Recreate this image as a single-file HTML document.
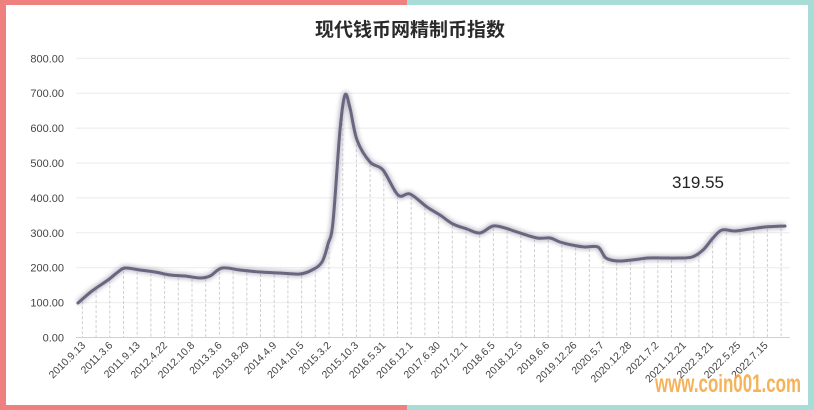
<!DOCTYPE html>
<html><head><meta charset="utf-8"><style>
html,body{margin:0;padding:0;width:814px;height:410px;overflow:hidden;background:#fff}
svg{display:block}
text{font-family:"Liberation Sans","Noto Sans CJK SC",sans-serif}
</style></head><body>
<svg id="s" width="814" height="410" viewBox="0 0 814 410" xmlns="http://www.w3.org/2000/svg">
<defs><filter id="sh" x="-5%" y="-5%" width="110%" height="120%"><feGaussianBlur stdDeviation="2.2"/></filter></defs>
<rect x="0" y="0" width="407" height="410" fill="#ee8080"/>
<rect x="407" y="0" width="407" height="410" fill="#a8dcd6"/>
<rect x="6" y="5" width="802" height="400" fill="#fff"/>
<text x="410" y="36" text-anchor="middle" font-size="19" font-weight="bold" fill="#2a2a2a">现代钱币网精制币指数</text>
<g id="grid" stroke="#ebebeb" stroke-width="1"></g>
<g id="drop" stroke="#cfcfcf" stroke-width="1" stroke-dasharray="3,2"></g>
<line x1="76" y1="337.5" x2="790" y2="337.5" stroke="#d0d0d0"/>
<g id="ylab" font-size="11" fill="#444" text-anchor="end"></g>
<g id="xlab" font-size="10.5" fill="#444"></g>
<path id="shadow" fill="none" stroke="#9a96a8" stroke-width="6" opacity="0.6" filter="url(#sh)"/>
<path id="line" fill="none" stroke="#6b6680" stroke-width="3" stroke-linejoin="round" stroke-linecap="round"/>
<text x="672" y="188" font-size="17" fill="#222">319.55</text>
<text x="655" y="392" font-size="25" font-weight="bold" fill="#f5a53c" opacity="0.85" textLength="146" lengthAdjust="spacingAndGlyphs">www.coin001.com</text>
</svg>
<script>
var ns="http://www.w3.org/2000/svg";
function el(t,a,p){var e=document.createElementNS(ns,t);for(var k in a)e.setAttribute(k,a[k]);p.appendChild(e);return e;}
var g=document.getElementById('grid'),yl=document.getElementById('ylab'),xl=document.getElementById('xlab');
for(var i=0;i<=8;i++){var y=337.5-i*34.9;if(i>0)el('line',{x1:76,y1:y,x2:790,y2:y},g);var t=el('text',{x:64,y:y+4},yl);t.textContent=(i*100).toFixed(2);}
var P=[[78,303],[92,291],[108,280],[118,272],[125,268],[140,270],[155,272],[170,275],[185,276],[200,278],[210,276],[222,268],[240,270],[260,272],[280,273],[300,274],[312,270],[322,262],[328,244],[333,222],[340,130],[345,95],[350,108],[357,140],[370,162],[383,170],[398,195],[410,194],[427,207],[440,215],[453,224],[467,229],[480,233],[493,226],[505,228],[517,232],[537,238],[550,238],[560,242],[572,245],[585,247],[598,247],[606,258],[618,261],[632,260],[648,258],[662,258],[678,258],[692,257],[703,250],[713,238],[722,230],[735,231],[750,229],[765,227],[785,226]];
var d="M"+P[0][0]+","+P[0][1];
for(var i=0;i<P.length-1;i++){var p0=P[i-1]||P[i],p1=P[i],p2=P[i+1],p3=P[i+2]||p2;
d+=" C"+(p1[0]+(p2[0]-p0[0])/6)+","+(p1[1]+(p2[1]-p0[1])/6)+" "+(p2[0]-(p3[0]-p1[0])/6)+","+(p2[1]-(p3[1]-p1[1])/6)+" "+p2[0]+","+p2[1];}
document.getElementById('line').setAttribute('d',d);document.getElementById('shadow').setAttribute('d',d);
function yat(x){for(var i=0;i<P.length-1;i++){if(x>=P[i][0]&&x<=P[i+1][0]){var f=(x-P[i][0])/(P[i+1][0]-P[i][0]);return P[i][1]+f*(P[i+1][1]-P[i][1]);}}return 226;}
var dr=document.getElementById('drop');
for(var x=82.4;x<788;x+=13.7){el('line',{x1:x,y1:yat(x)+2,x2:x,y2:337},dr);}
var L=["2010.9.13","2011.3.6","2011.9.13","2012.4.22","2012.10.8","2013.3.6","2013.8.29","2014.4.9","2014.10.5","2015.3.2","2015.10.3","2016.5.31","2016.12.1","2017.6.30","2017.12.1","2018.6.5","2018.12.5","2019.6.6","2019.12.26","2020.5.7","2020.12.28","2021.7.2","2021.12.21","2022.3.21","2022.5.25","2022.7.15"];
for(var i=0;i<L.length;i++){var x=86+i*27.3;var t=el('text',{x:x,y:346,'text-anchor':'end',transform:'rotate(-45 '+x+' 346)'},xl);t.textContent=L[i];}
</script>
</body></html>
